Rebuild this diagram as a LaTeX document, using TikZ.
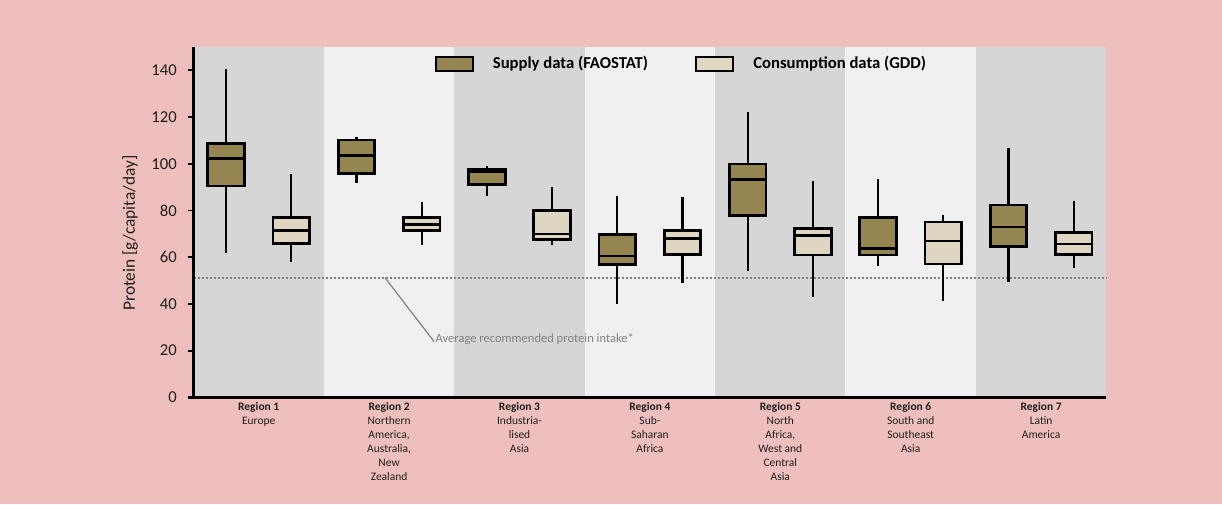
\documentclass[tikz,border=0pt]{standalone}
\usepackage{fontspec}
\setmainfont{Carlito}
\usetikzlibrary{positioning}
\definecolor{bgpink}{RGB}{239,191,190}
\definecolor{bandgray}{RGB}{214,214,214}
\definecolor{bandlight}{RGB}{240,240,240}
\definecolor{supplyfill}{RGB}{149,133,81}
\definecolor{consfill}{RGB}{222,214,192}
\definecolor{refgray}{RGB}{128,128,128}
\definecolor{labeltext}{RGB}{30,30,30}

\begin{document}
\begin{tikzpicture}[x=0.75pt,y=0.75pt,yscale=-1,xscale=1,
  whisker/.style={line width=1.6pt},
  supplybox/.style={draw,line width=2pt,fill=supplyfill},
  consbox/.style={draw,line width=2pt,fill=consfill},
  medline/.style={line width=2pt},
  ticklabel/.style={anchor=east,inner sep=0pt,text=labeltext,font=\fontsize{12.5}{15}\selectfont},
  regionlabel/.style={anchor=north,inner sep=0pt,align=center,text=labeltext,font=\fontsize{8.6}{10.5}\selectfont},
  legendtext/.style={anchor=west,inner sep=0pt,font=\fontsize{12.5}{14}\selectfont\bfseries},
  legendswatch/.style={line width=1.5pt,minimum width=28pt,minimum height=10.5pt,inner sep=0pt}]

%Background
\fill[bgpink] (0,0) rectangle (1222,504);

%Region bands
\fill[bandgray]  (193.5,47) rectangle (323.9,397.3);
\fill[bandlight] (323.9,47) rectangle (454.3,397.3);
\fill[bandgray]  (454.3,47) rectangle (584.6,397.3);
\fill[bandlight] (584.6,47) rectangle (715,397.3);
\fill[bandgray]  (715,47) rectangle (845.4,397.3);
\fill[bandlight] (845.4,47) rectangle (975.8,397.3);
\fill[bandgray]  (975.8,47) rectangle (1106,397.3);

%Recommended intake line
\draw[refgray, line width=1.5pt, dash pattern={on 1.5pt off 1.5pt}] (193.5,277.7) -- (1106,277.7);
\coordinate (rdapoint) at (385,277.7);
\node[anchor=west, inner sep=1pt, text=refgray, font=\fontsize{9.4}{11}\selectfont] (rdalabel) at (434,339.5) {Average recommended protein intake*};
\draw[refgray, line width=0.9pt] (rdapoint) -- ([yshift=1.5pt]rdalabel.west);

%Region 1 supply
\draw[whisker] (226.1,69.3) -- (226.1,253.3);
\draw[supplybox] (207.8,143.7) rectangle (244.4,186);
\draw[medline] (207.8,158.3) -- (244.4,158.3);
%Region 1 consumption
\draw[whisker] (291.3,174) -- (291.3,261.7);
\draw[consbox] (273,217.3) rectangle (309.6,243.7);
\draw[medline] (273,230.7) -- (309.6,230.7);

%Region 2 supply
\draw[whisker] (356.5,137.3) -- (356.5,183.3);
\draw[supplybox] (338.2,140) rectangle (374.8,173.3);
\draw[medline] (338.2,155.3) -- (374.8,155.3);
%Region 2 consumption
\draw[whisker] (421.7,201.7) -- (421.7,245);
\draw[consbox] (403.4,217.7) rectangle (440,230.3);
\draw[medline] (403.4,224.3) -- (440,224.3);

%Region 3 supply
\draw[whisker] (486.9,166) -- (486.9,196);
\draw[supplybox] (468.6,169) rectangle (505.2,184.3);
\draw[medline] (468.6,171.7) -- (505.2,171.7);
%Region 3 consumption
\draw[whisker] (552.1,187.3) -- (552.1,245);
\draw[consbox] (533.8,210.3) rectangle (570.4,239.7);
\draw[medline] (533.8,234) -- (570.4,234);

%Region 4 supply
\draw[whisker] (617.3,196) -- (617.3,304);
\draw[supplybox] (599,234.7) rectangle (635.6,264.3);
\draw[medline] (599,256) -- (635.6,256);
%Region 4 consumption
\draw[whisker] (682.5,196.7) -- (682.5,283.3);
\draw[consbox] (664.2,230.7) rectangle (700.8,254.3);
\draw[medline] (664.2,238.7) -- (700.8,238.7);

%Region 5 supply
\draw[whisker] (747.7,111.7) -- (747.7,271);
\draw[supplybox] (729.4,164) rectangle (766,215.7);
\draw[medline] (729.4,179.3) -- (766,179.3);
%Region 5 consumption
\draw[whisker] (812.9,181) -- (812.9,296.7);
\draw[consbox] (794.6,228.3) rectangle (831.2,255);
\draw[medline] (794.6,235.7) -- (831.2,235.7);

%Region 6 supply
\draw[whisker] (878.1,178.7) -- (878.1,265.7);
\draw[supplybox] (859.8,217.7) rectangle (896.4,255);
\draw[medline] (859.8,248.3) -- (896.4,248.3);
%Region 6 consumption
\draw[whisker] (943.3,215) -- (943.3,300.7);
\draw[consbox] (925,222) rectangle (961.6,264);
\draw[medline] (925,241) -- (961.6,241);

%Region 7 supply
\draw[whisker] (1008.5,148.3) -- (1008.5,281.7);
\draw[supplybox] (990.2,205) rectangle (1026.8,246.7);
\draw[medline] (990.2,227) -- (1026.8,227);
%Region 7 consumption
\draw[whisker] (1073.7,200.7) -- (1073.7,267.7);
\draw[consbox] (1055.4,232.3) rectangle (1092,254.7);
\draw[medline] (1055.4,244) -- (1092,244);

%Axes
\draw[line width=1.8pt] (193.5,47) -- (193.5,397.3);
\draw[line width=2.2pt] (188,397.3) -- (1106,397.3);
\draw[line width=1.4pt] (188,350.6) -- (193.5,350.6);
\draw[line width=1.4pt] (188,303.9) -- (193.5,303.9);
\draw[line width=1.4pt] (188,257.2) -- (193.5,257.2);
\draw[line width=1.4pt] (188,210.5) -- (193.5,210.5);
\draw[line width=1.4pt] (188,163.8) -- (193.5,163.8);
\draw[line width=1.4pt] (188,117.1) -- (193.5,117.1);
\draw[line width=1.4pt] (188,70.4) -- (193.5,70.4);

%Tick labels
\node[ticklabel] (t0) at (177,397.3) {0};
\node[ticklabel] (t20) at (177,350.6) {20};
\node[ticklabel] (t40) at (177,303.9) {40};
\node[ticklabel] (t60) at (177,257.2) {60};
\node[ticklabel] (t80) at (177,210.5) {80};
\node[ticklabel] (t100) at (177,163.8) {100};
\node[ticklabel] (t120) at (177,117.1) {120};
\node[ticklabel] (t140) at (177,70.4) {140};
\node[rotate=90, text=labeltext, font=\fontsize{13}{15}\selectfont] (ylabel) at (130,233) {Protein [g/capita/day]};

%Region labels
\node[regionlabel] (reg1) at (258.7,402.5) {\textbf{Region 1}\\Europe};
\node[regionlabel] (reg2) at (389.1,402.5) {\textbf{Region 2}\\Northern\\America,\\Australia,\\New\\Zealand};
\node[regionlabel] (reg3) at (519.5,402.5) {\textbf{Region 3}\\Industria-\\lised\\Asia};
\node[regionlabel] (reg4) at (649.9,402.5) {\textbf{Region 4}\\Sub-\\Saharan\\Africa};
\node[regionlabel] (reg5) at (780.3,402.5) {\textbf{Region 5}\\North\\Africa,\\West and\\Central\\Asia};
\node[regionlabel] (reg6) at (910.7,402.5) {\textbf{Region 6}\\South and\\Southeast\\Asia};
\node[regionlabel] (reg7) at (1041.1,402.5) {\textbf{Region 7}\\Latin\\America};

%Legend
\node[supplybox, legendswatch] (legsupply) at (454.3,63.7) {};
\node[legendtext, right=14pt of legsupply] (legsupplytxt) {Supply data (FAOSTAT)};
\node[consbox, legendswatch] (legcons) at (714.7,63.7) {};
\node[legendtext, right=14pt of legcons] (legconstxt) {Consumption data (GDD)};

\end{tikzpicture}
\end{document}
